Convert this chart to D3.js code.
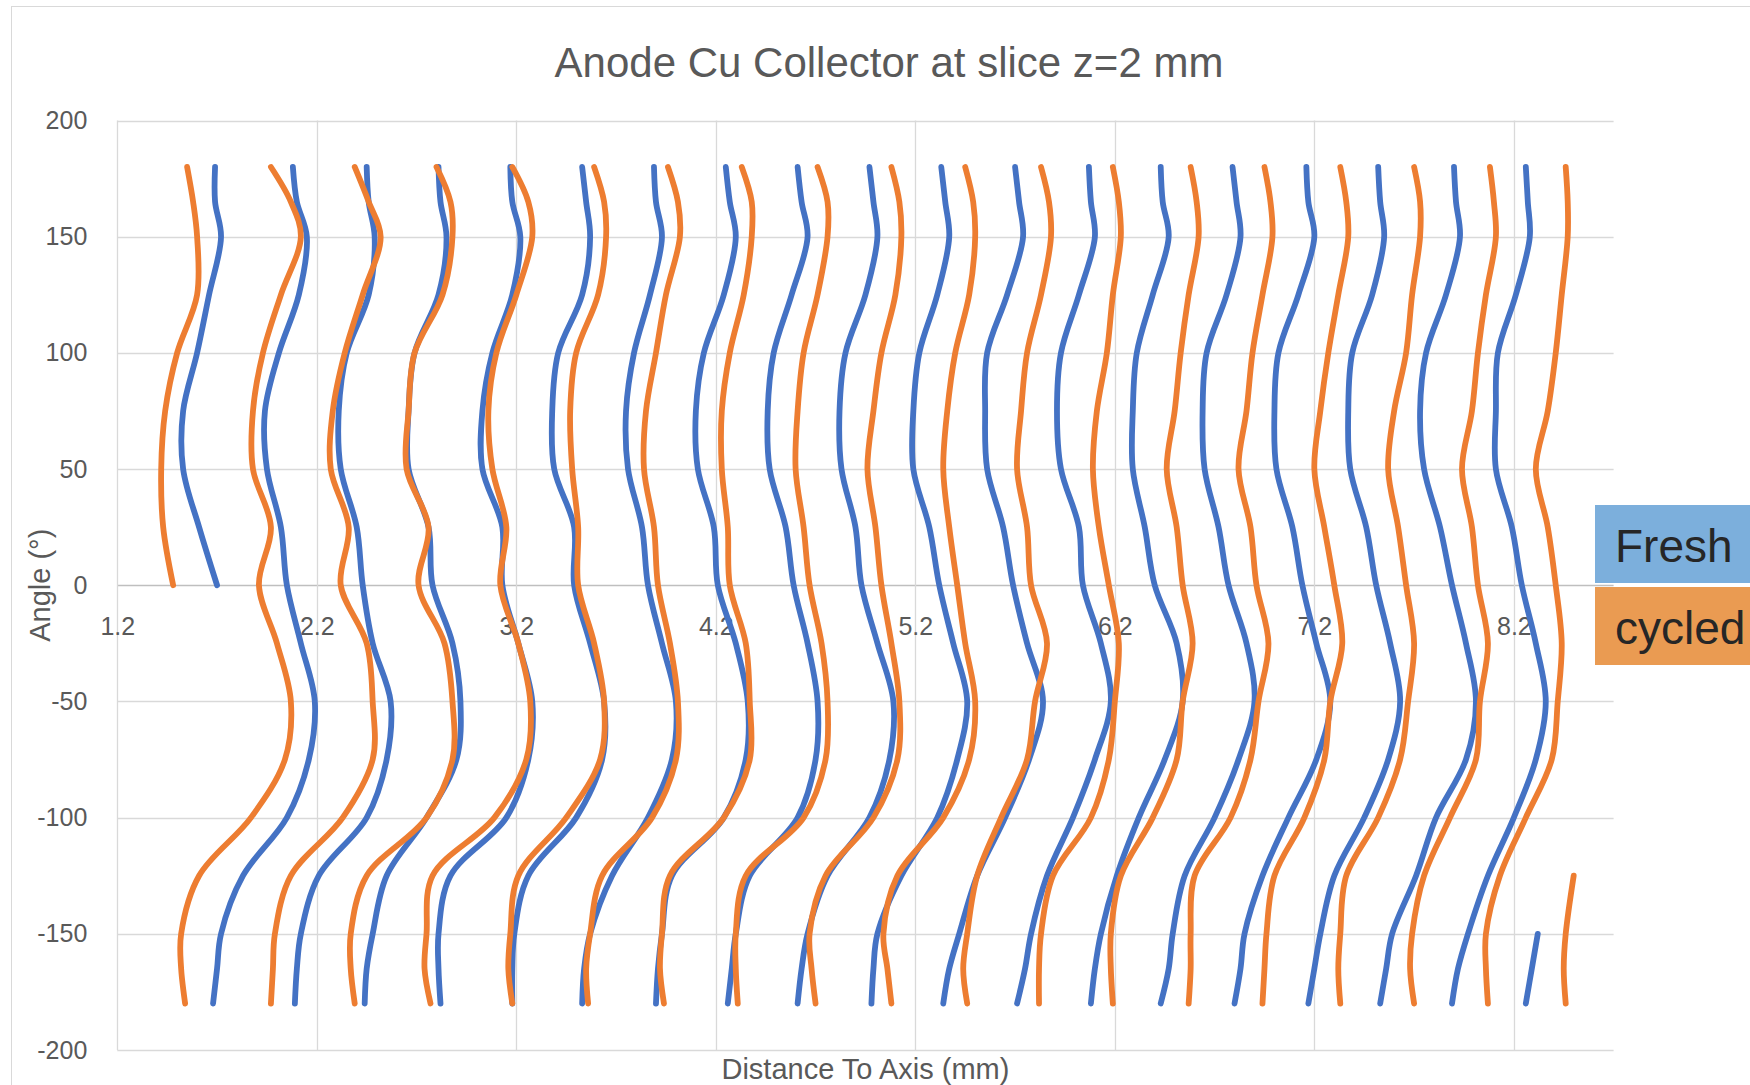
<!DOCTYPE html>
<html>
<head>
<meta charset="utf-8">
<style>
  body { margin:0; background:#fff; }
  svg { display:block; }
  text { font-family: "Liberation Sans", Arial, sans-serif; }
</style>
<script src="https://d3js.org/d3.v7.min.js"></script>
</head>
<body>
<svg width="1750" height="1085"></svg>
<script>
// angle levels (deg) shared by every curve, top to bottom
var angles = [180, 165, 150, 125, 100, 75, 50, 25, 0, -25, -50, -75, -100, -125, -150, -165, -180];

// distance to axis (mm) of each Fresh curve at those angles
var fresh = [
  [1.69,1.69,1.72,1.66,1.60,1.53,1.53,1.61,1.70,null,null,null,null,null,null,null,null],
  [2.08,2.10,2.15,2.11,2.01,1.94,1.95,2.02,2.05,2.12,2.19,2.16,2.05,1.83,1.72,1.70,1.68],
  [2.45,2.46,2.49,2.46,2.35,2.31,2.32,2.40,2.43,2.48,2.57,2.55,2.45,2.21,2.12,2.10,2.09],
  [2.81,2.82,2.85,2.81,2.69,2.66,2.66,2.76,2.78,2.88,2.92,2.90,2.75,2.55,2.48,2.45,2.44],
  [3.17,3.18,3.22,3.18,3.08,3.03,3.03,3.13,3.13,3.21,3.28,3.26,3.15,2.87,2.81,2.81,2.82],
  [3.53,3.55,3.57,3.53,3.41,3.38,3.39,3.49,3.49,3.57,3.64,3.63,3.50,3.26,3.19,3.18,3.18],
  [3.89,3.90,3.93,3.87,3.79,3.75,3.76,3.83,3.86,3.93,4.00,3.98,3.86,3.68,3.57,3.54,3.53],
  [4.25,4.27,4.30,4.24,4.14,4.10,4.11,4.19,4.21,4.30,4.36,4.35,4.24,3.98,3.93,3.91,3.90],
  [4.61,4.63,4.66,4.58,4.49,4.46,4.47,4.55,4.59,4.66,4.71,4.70,4.61,4.37,4.30,4.28,4.26],
  [4.97,4.99,5.01,4.95,4.85,4.82,4.83,4.90,4.93,5.01,5.09,5.07,4.97,4.76,4.66,4.63,4.61],
  [5.33,5.35,5.37,5.31,5.22,5.19,5.19,5.27,5.32,5.39,5.46,5.41,5.31,5.13,5.01,4.99,4.98],
  [5.70,5.72,5.74,5.66,5.56,5.55,5.56,5.64,5.69,5.76,5.84,5.77,5.65,5.51,5.42,5.37,5.34],
  [6.07,6.08,6.10,6.02,5.93,5.91,5.93,6.02,6.04,6.13,6.18,6.10,5.99,5.86,5.78,5.75,5.71],
  [6.43,6.44,6.47,6.39,6.31,6.29,6.29,6.35,6.40,6.51,6.54,6.45,6.32,6.21,6.13,6.10,6.08],
  [6.79,6.81,6.83,6.76,6.66,6.64,6.65,6.72,6.77,6.86,6.90,6.82,6.70,6.55,6.49,6.47,6.43],
  [7.16,7.17,7.20,7.12,7.02,7.00,7.01,7.09,7.14,7.21,7.28,7.21,7.07,6.94,6.85,6.83,6.80],
  [7.52,7.53,7.55,7.49,7.39,7.37,7.38,7.46,7.51,7.58,7.63,7.57,7.45,7.30,7.23,7.20,7.17],
  [7.90,7.91,7.93,7.86,7.76,7.73,7.75,7.83,7.89,7.96,8.01,7.96,7.81,7.71,7.59,7.56,7.53],
  [8.26,8.27,8.28,8.21,8.12,8.11,8.11,8.19,8.24,8.31,8.36,8.31,8.20,8.07,7.97,7.92,7.89],
  [null,null,null,null,null,null,null,null,null,null,null,null,null,null,8.32,8.29,8.26]
];

// distance to axis (mm) of each cycled curve at those angles
var cycled = [
  [1.55,1.58,1.60,1.60,1.50,1.44,1.42,1.43,1.48,null,null,null,null,null,null,null,null],
  [1.97,2.07,2.12,2.02,1.93,1.88,1.88,1.97,1.91,2.00,2.07,2.04,1.87,1.61,1.52,1.52,1.54],
  [2.39,2.46,2.52,2.43,2.34,2.28,2.27,2.36,2.32,2.45,2.48,2.48,2.33,2.07,1.99,1.98,1.97],
  [2.80,2.87,2.88,2.83,2.69,2.66,2.65,2.76,2.71,2.84,2.88,2.88,2.75,2.45,2.37,2.37,2.39],
  [3.18,3.26,3.28,3.20,3.10,3.06,3.08,3.15,3.12,3.21,3.27,3.25,3.09,2.78,2.75,2.74,2.77],
  [3.59,3.64,3.65,3.61,3.50,3.47,3.48,3.51,3.51,3.59,3.64,3.62,3.45,3.21,3.17,3.16,3.18],
  [3.96,4.01,4.02,3.95,3.90,3.85,3.84,3.89,3.91,3.97,4.01,4.00,3.88,3.63,3.57,3.55,3.56],
  [4.33,4.38,4.38,4.34,4.27,4.23,4.23,4.26,4.27,4.35,4.37,4.37,4.24,3.97,3.93,3.92,3.94],
  [4.71,4.76,4.76,4.71,4.64,4.61,4.60,4.64,4.67,4.73,4.76,4.75,4.64,4.35,4.30,4.30,4.31],
  [5.08,5.12,5.13,5.10,5.03,4.99,4.96,5.00,5.03,5.08,5.12,5.11,4.99,4.75,4.67,4.68,4.70],
  [5.45,5.49,5.50,5.47,5.40,5.36,5.34,5.37,5.41,5.45,5.50,5.47,5.34,5.11,5.04,5.06,5.08],
  [5.83,5.87,5.88,5.83,5.76,5.73,5.71,5.76,5.78,5.86,5.80,5.76,5.63,5.51,5.46,5.44,5.46],
  [6.19,6.22,6.23,6.19,6.16,6.11,6.09,6.12,6.17,6.22,6.20,6.17,6.08,5.89,5.83,5.82,5.82],
  [6.58,6.61,6.62,6.57,6.53,6.50,6.46,6.51,6.54,6.59,6.54,6.51,6.39,6.23,6.18,6.18,6.19],
  [6.95,6.98,6.99,6.94,6.89,6.86,6.82,6.88,6.91,6.97,6.92,6.88,6.78,6.60,6.58,6.58,6.57],
  [7.33,7.36,7.37,7.32,7.27,7.23,7.20,7.25,7.30,7.34,7.28,7.25,7.15,7.00,6.96,6.95,6.94],
  [7.70,7.73,7.73,7.69,7.66,7.60,7.57,7.62,7.66,7.70,7.67,7.63,7.52,7.36,7.33,7.32,7.33],
  [8.08,8.10,8.11,8.06,8.02,7.99,7.94,7.99,8.02,8.07,8.03,8.01,7.88,7.75,7.69,7.68,7.70],
  [8.46,8.47,8.47,8.44,8.41,8.37,8.31,8.37,8.41,8.44,8.42,8.39,8.26,8.13,8.06,8.06,8.07],
  [null,null,null,null,null,null,null,null,null,null,null,null,null,8.50,8.46,8.45,8.46]
];

var xTicks = [1.2, 2.2, 3.2, 4.2, 5.2, 6.2, 7.2, 8.2];
var yTicks = [-200, -150, -100, -50, 0, 50, 100, 150, 200];
var seriesNames = ["Fresh", "cycled"];
var chartTitle = "Anode Cu Collector at slice z=2 mm";
var xTitle = "Distance To Axis (mm)";
var yTitle = "Angle (°)";

var plot = {left: 117.3, right: 1613.6, top: 120.5, bottom: 1050};
var grey = "#595959";

var svg = d3.select("svg");

// outer chart frame (runs off the page on the right and bottom)
svg.append("rect")
    .attr("x", 11.5).attr("y", 6.5)
    .attr("width", 1900).attr("height", 1200)
    .attr("fill", "none")
    .attr("stroke", "#d9d9d9");

var xScale = d3.scaleLinear().domain([1.2, 8.7]).range([plot.left, plot.right]);
var yScale = d3.scaleLinear().domain([-200, 200]).range([plot.bottom, plot.top]);

// gridlines
svg.append("g").selectAll("line")
    .data(yTicks)
    .enter().append("line")
    .attr("x1", plot.left).attr("x2", plot.right)
    .attr("y1", d => Math.round(yScale(d)) + 0.5)
    .attr("y2", d => Math.round(yScale(d)) + 0.5)
    .attr("stroke", d => d === 0 ? "#bfbfbf" : "#d9d9d9")
    .attr("stroke-width", 1.3);

svg.append("g").selectAll("line")
    .data(xTicks)
    .enter().append("line")
    .attr("x1", d => Math.round(xScale(d)) + 0.5)
    .attr("x2", d => Math.round(xScale(d)) + 0.5)
    .attr("y1", plot.top).attr("y2", plot.bottom)
    .attr("stroke", "#d9d9d9")
    .attr("stroke-width", 1.3);

// axes labels (no lines), plain hyphen for negatives like Excel
var yAxis = d3.axisLeft(yScale).tickValues(yTicks).tickFormat(d => String(d)).tickSize(0).tickPadding(30);
var gy = svg.append("g")
    .attr("transform", "translate(" + plot.left + ",0)")
    .call(yAxis);

var xAxis = d3.axisBottom(xScale).tickValues(xTicks).tickFormat(d => d.toFixed(1)).tickSize(0).tickPadding(32);
var gx = svg.append("g")
    .attr("transform", "translate(0," + yScale(0) + ")")
    .call(xAxis);

[gx, gy].forEach(g => {
    g.select(".domain").remove();
    g.selectAll("text")
        .attr("fill", grey)
        .style("font-size", "25px")
        .style("font-family", "\"Liberation Sans\", Arial, sans-serif");
});

// curves
var line = d3.line()
    .defined(d => d[0] != null)
    .x(d => xScale(d[0]))
    .y(d => yScale(d[1]))
    .curve(d3.curveCatmullRom.alpha(0.5));

function drawSeries(curves, color) {
    svg.append("g").selectAll("path")
        .data(curves)
        .enter().append("path")
        .attr("d", c => line(c.map((x, i) => [x, angles[i]])))
        .attr("fill", "none")
        .attr("stroke", color)
        .attr("stroke-width", 5.8)
        .attr("stroke-linecap", "round")
        .attr("stroke-linejoin", "round");
}
drawSeries(fresh, "#4472c4");
drawSeries(cycled, "#ed7d31");

// titles
svg.append("text")
    .attr("x", 889).attr("y", 77)
    .attr("text-anchor", "middle")
    .attr("fill", grey)
    .style("font-size", "42px")
    .text(chartTitle);

svg.append("text")
    .attr("x", (plot.left + plot.right) / 2).attr("y", 1079)
    .attr("text-anchor", "middle")
    .attr("fill", grey)
    .style("font-size", "29px")
    .text(xTitle);

svg.append("text")
    .attr("transform", "translate(50," + yScale(0) + ") rotate(-90)")
    .attr("text-anchor", "middle")
    .attr("fill", grey)
    .style("font-size", "29px")
    .text(yTitle);

// legend boxes
var legendColors = ["#7cafdc", "#ea9b52"];
seriesNames.forEach((name, i) => {
    var top = 505 + i * 82;
    svg.append("rect")
        .attr("x", 1595).attr("y", top)
        .attr("width", 200).attr("height", 78)
        .attr("fill", legendColors[i]);
    svg.append("text")
        .attr("x", 1615).attr("y", top + 57)
        .attr("fill", "#262626")
        .style("font-size", "46px")
        .text(name);
});
</script>
</body>
</html>
